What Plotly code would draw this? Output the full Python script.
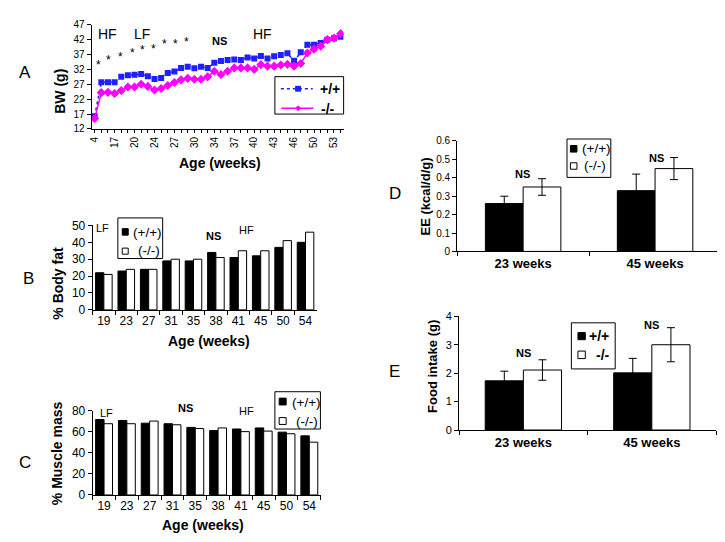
import plotly.graph_objects as go

W, H = 725, 542
FONT = "Arial, Liberation Sans, sans-serif"


def px(x):
    return x / W


def py(y):
    return 1 - y / H


# ---------------- data ----------------
weeks = [4, 15, 16, 17, 18, 19, 20, 22, 23, 24, 25, 26, 27, 28, 29, 30, 32, 33, 34,
         35, 36, 37, 38, 39, 40, 41, 42, 43, 44, 45, 46, 48, 49, 50, 51, 52, 53, 54]
week_labels = [4, 17, 20, 24, 27, 30, 34, 37, 40, 43, 46, 50, 53]
bw_wt = [16.3, 27.7, 27.7, 27.7, 29.5, 30.0, 30.2, 30.5, 29.7, 28.8, 29.1, 30.8, 31.3,
         32.5, 32.9, 32.4, 32.9, 32.5, 34.2, 34.8, 35.2, 35.3, 35.2, 36.0, 35.7, 36.5,
         35.7, 36.4, 36.8, 37.4, 34.9, 37.8, 40.3, 40.3, 40.9, 42.0, 42.5, 43.0]
bw_ko = [15.5, 24.2, 24.3, 23.9, 24.9, 26.1, 26.1, 27.0, 26.3, 25.1, 25.6, 26.6, 27.6,
         28.5, 29.0, 28.7, 28.7, 29.5, 31.4, 30.3, 31.4, 32.5, 32.5, 32.5, 32.0, 33.6,
         33.1, 33.1, 33.5, 33.7, 33.1, 34.0, 37.5, 38.8, 39.8, 42.0, 42.5, 44.0]

comp_weeks = ["19", "23", "27", "31", "35", "38", "41", "45", "50", "54"]
fat_wt = [22, 23, 24, 29, 29, 34, 31, 32, 37, 40]
fat_ko = [21, 24, 24, 30, 30, 31, 35, 35, 41, 46]
muscle_wt = [71.5, 70.5, 68, 67.5, 64, 61, 62.5, 63.5, 59.5, 56]
muscle_ko = [67.5, 67.5, 70, 66.5, 63, 63.5, 60, 60.5, 58, 50]

groups = ["23 weeks", "45 weeks"]
ee_wt = [0.26, 0.33]
ee_wt_err = [0.04, 0.09]
ee_ko = [0.35, 0.45]
ee_ko_err = [0.045, 0.06]
fi_wt = [1.73, 2.01]
fi_wt_err = [0.34, 0.51]
fi_ko = [2.11, 3.0]
fi_ko_err = [0.36, 0.6]

BLUE = "#1f1fff"
MAGENTA = "#ff00ff"

# ---------------- figure ----------------
fig = go.Figure()

idx = list(range(len(weeks)))
fig.add_trace(go.Scatter(x=idx, y=bw_wt, name="+/+", mode="lines+markers",
                         line=dict(color=BLUE, width=1.5, dash="dot"),
                         marker=dict(symbol="square", size=6, color=BLUE),
                         xaxis="x", yaxis="y", showlegend=False))
fig.add_trace(go.Scatter(x=idx, y=bw_ko, name="-/-", mode="lines+markers",
                         line=dict(color=MAGENTA, width=1.5),
                         marker=dict(symbol="diamond", size=7, color=MAGENTA),
                         xaxis="x", yaxis="y", showlegend=False))


def bar_pair(cats, v1, v2, n1, n2, xa, ya, w, e1=None, e2=None):
    eb1 = dict(type="data", array=e1, color="black", thickness=1, width=4) if e1 else None
    eb2 = dict(type="data", array=e2, color="black", thickness=1, width=4) if e2 else None
    fig.add_trace(go.Bar(x=cats, y=v1, name=n1, marker=dict(color="black", line=dict(color="black", width=1)),
                         width=w, offset=-w, error_y=eb1, xaxis=xa, yaxis=ya, showlegend=False))
    fig.add_trace(go.Bar(x=cats, y=v2, name=n2, marker=dict(color="white", line=dict(color="black", width=1)),
                         width=w, offset=0, error_y=eb2, xaxis=xa, yaxis=ya, showlegend=False))


bar_pair(comp_weeks, fat_wt, fat_ko, "(+/+)", "(-/-)", "x2", "y2", 0.37)
bar_pair(comp_weeks, muscle_wt, muscle_ko, "(+/+)", "(-/-)", "x3", "y3", 0.37)
bar_pair(groups, ee_wt, ee_ko, "(+/+)", "(-/-)", "x4", "y4", 0.286, ee_wt_err, ee_ko_err)
bar_pair(groups, fi_wt, fi_ko, "+/+", "-/-", "x5", "y5", 0.297, fi_wt_err, fi_ko_err)


def xax(dom, anchor, **kw):
    d = dict(domain=dom, anchor=anchor, showline=True, linecolor="black", linewidth=1,
             ticks="outside", tickcolor="black", ticklen=4, showgrid=False, zeroline=False,
             tickfont=dict(family=FONT, size=12, color="black"))
    d.update(kw)
    return d


def yax(dom, anchor, rng, dtick, size=11):
    return dict(domain=dom, anchor=anchor, range=rng, dtick=dtick, tick0=rng[0],
                showline=True, linecolor="black", linewidth=1, ticks="outside",
                tickcolor="black", ticklen=4, showgrid=False, zeroline=False,
                tickfont=dict(family=FONT, size=size, color="black"))


ticktext_a = [str(w) if w in week_labels else "" for w in weeks]

layout = dict(
    width=W, height=H, autosize=False,
    margin=dict(l=0, r=0, t=0, b=0),
    paper_bgcolor="white", plot_bgcolor="white",
    barmode="overlay", showlegend=False,
    font=dict(family=FONT, color="black"),
    xaxis=xax([px(81), px(334)], "y", range=[-0.45, 37.45], tickmode="array",
              tickvals=idx, ticktext=ticktext_a, tickangle=-90, ticklen=3,
              tickfont=dict(family=FONT, size=10, color="black")),
    yaxis=yax([py(117), py(10)], "x", [12, 47], 5, 10),
    xaxis2=xax([px(82), px(307)], "y2", type="category", tickson="boundaries", tickangle=0),
    yaxis2=yax([py(302.7), py(216)], "x2", [0, 50], 10, 12),
    xaxis3=xax([px(82), px(311)], "y3", type="category", tickson="boundaries", tickangle=0),
    yaxis3=yax([py(492.7), py(406)], "x3", [0, 80], 20, 12),
    xaxis4=xax([px(448), px(713)], "y4", type="category", tickson="boundaries", tickangle=0,
               tickfont=dict(family=FONT, size=13, color="black", weight="bold")),
    yaxis4=yax([py(242.7), py(129.3)], "x4", [0, 0.6], 0.1, 10),
    xaxis5=xax([px(450), px(708)], "y5", type="category", tickson="boundaries", tickangle=0,
               tickfont=dict(family=FONT, size=13, color="black", weight="bold")),
    yaxis5=yax([py(426), py(309.3)], "x5", [0, 4], 1, 11),
)

ann = []
shapes = []


def txt(t, x, y, size=12, bold=False, angle=0, anchor="center"):
    ann.append(dict(text=t, x=px(x), y=py(y), xref="paper", yref="paper", showarrow=False,
                    xanchor=anchor, yanchor="middle", textangle=angle,
                    font=dict(family=FONT, size=size, color="black",
                              weight="bold" if bold else "normal")))


def rect(x0, y0, x1, y1, fill="white", lw=1):
    shapes.append(dict(type="rect", xref="paper", yref="paper", x0=px(x0), x1=px(x1),
                       y0=py(y1), y1=py(y0), fillcolor=fill,
                       line=dict(color="black", width=lw), layer="above"))


def bar_legend(box, entries, size=13.5, bold=False):
    rect(*box)
    for (sx0, sy0, sx1, sy1, fill, label, tx, ty) in entries:
        rect(sx0, sy0, sx1, sy1, fill=fill)
        txt(label, tx, ty, size, bold, anchor="left")


# ----- legends -----
# Panel A (line legend)
rect(265, 63.3, 334, 101.7)
shapes.append(dict(type="line", xref="paper", yref="paper", x0=px(271), x1=px(303),
                   y0=py(75.7), y1=py(75.7), line=dict(color=BLUE, width=1.5, dash="dot"),
                   layer="above"))
shapes.append(dict(type="rect", xref="paper", yref="paper", x0=px(285.3), x1=px(291.3),
                   y0=py(78.7), y1=py(72.7), fillcolor=BLUE, line=dict(width=0), layer="above"))
shapes.append(dict(type="line", xref="paper", yref="paper", x0=px(271.5), x1=px(303.5),
                   y0=py(95.7), y1=py(95.7), line=dict(color=MAGENTA, width=1.5),
                   layer="above"))
dx, dy = 288.3, 95.7
shapes.append(dict(type="path", xref="paper", yref="paper",
                   path=f"M {px(dx - 3)},{py(dy)} L {px(dx)},{py(dy - 3)} L {px(dx + 3)},{py(dy)} "
                        f"L {px(dx)},{py(dy + 3)} Z",
                   fillcolor=MAGENTA, line=dict(width=0), layer="above"))
txt("+/+", 308, 76, 14, True, anchor="left")
txt("-/-", 309, 96, 14, True, anchor="left")

# Panel B
bar_legend((107.3, 208.3, 152.3, 250),
           [(111.7, 219.3, 117.7, 226, "black", "(+/+)", 121, 223.3),
            (111.7, 239.3, 117.7, 245.5, "white", "(-/-)", 126, 242)])
# Panel C
bar_legend((265, 386.7, 310.7, 425),
           [(269.3, 393.3, 276.3, 400.3, "black", "(+/+)", 280, 397.3),
            (269.3, 413.3, 276.3, 420.3, "white", "(-/-)", 284.5, 417.3)])
# Panel D
bar_legend((558.3, 127.3, 602.3, 166.7),
           [(561.7, 134, 568.3, 140.7, "black", "(+/+)", 571.5, 137.3),
            (561.7, 151.7, 568.3, 158.3, "white", "(-/-)", 573, 155)])
# Panel E
bar_legend((562.7, 316, 606.7, 363.3),
           [(569.3, 326, 576.7, 333.3, "black", "+/+", 578.5, 330),
            (569.3, 345, 576.7, 352.7, "white", "-/-", 585, 349)], size=14, bold=True)

# panel letters
txt("A", 14, 59, 17)
txt("B", 18, 270, 17)
txt("C", 14, 459, 17)
txt("D", 386, 183, 17)
txt("E", 385, 366, 17)
# axis titles
txt("BW (g)", 49, 78, 14, True, -90)
txt("Age (weeks)", 210, 152, 14, True)
txt("% Body fat", 47, 275, 14, True, -90)
txt("Age (weeks)", 199, 335, 14, True)
txt("% Muscle mass", 47, 450, 14, True, -90)
txt("Age (weeks)", 193, 524, 14, True)
txt("EE (kcal/d/g)", 416, 186, 13, True, -90)
txt("Food intake (g)", 423, 361, 13, True, -90)
# panel A notes
txt("HF", 96.7, 20, 14)
txt("LF", 131.7, 20, 14)
txt("NS", 209, 27, 11, True)
txt("HF", 253, 20, 14)
for sx, sy in [(87.7, 48.3), (98.3, 43.3), (110, 40), (121.7, 36), (132.3, 33.3),
               (143.3, 31.7), (154.3, 26.7), (165, 26.7), (176.3, 24.3)]:
    txt("*", sx, sy + 3, 12)
# panel B notes
txt("LF", 91.7, 219, 11)
txt("NS", 203, 227, 11, True)
txt("HF", 236.7, 221, 11)
# panel C notes
txt("LF", 96, 409, 11)
txt("NS", 175, 403, 11, True)
txt("HF", 236.7, 407, 11)
# panel D/E notes
txt("NS", 514, 163, 11, True)
txt("NS", 648, 147, 11, True)
txt("NS", 515, 347, 11, True)
txt("NS", 643, 318, 11, True)

layout["annotations"] = ann
layout["shapes"] = shapes
fig.update_layout(**layout)
fig.write_html("out.html")
